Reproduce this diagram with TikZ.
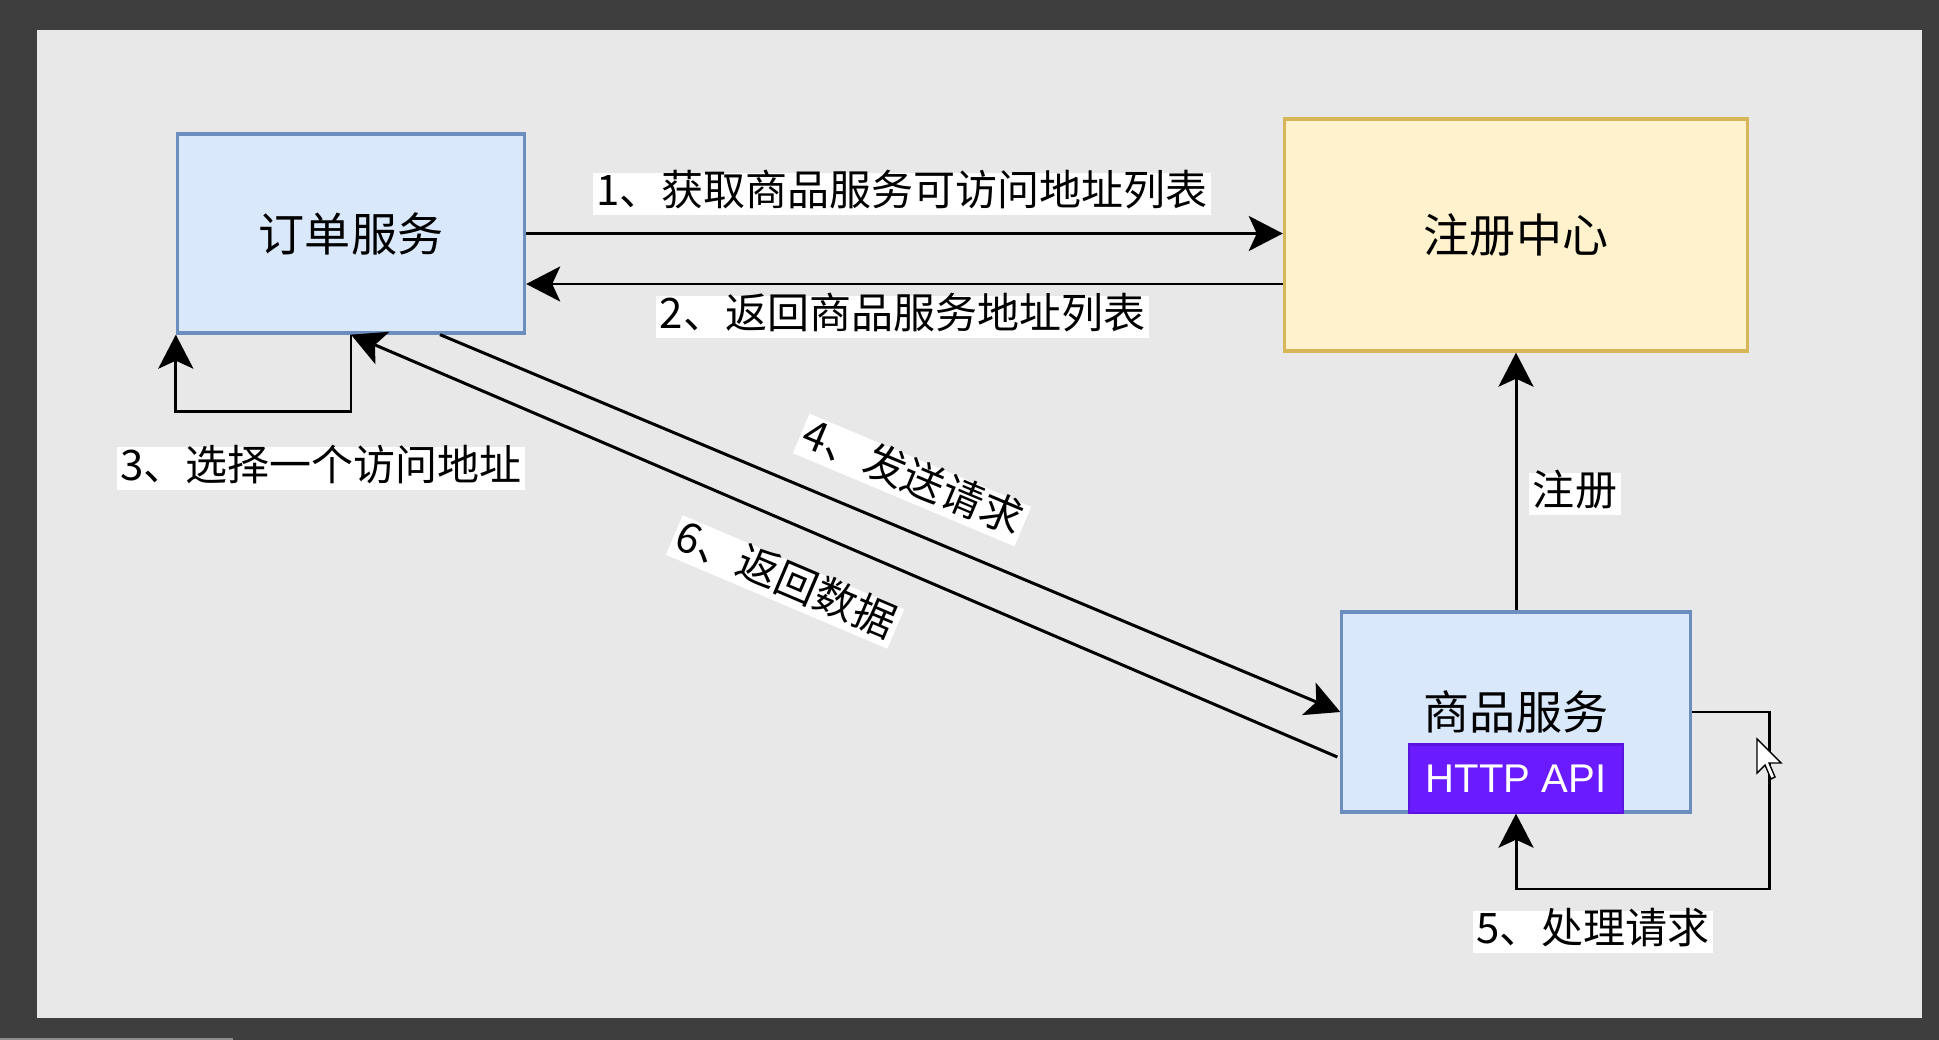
\documentclass[tikz,border=0pt]{standalone}
\usepackage{fontspec}
\setmainfont{Noto Sans CJK SC}
\newfontfamily\apifont{Liberation Sans}
\usetikzlibrary{arrows.meta,calc}
\definecolor{outerbg}{HTML}{3E3E3E}
\definecolor{innerbg}{HTML}{E8E8E8}
\definecolor{svcfill}{HTML}{DAE8FC}
\definecolor{svcline}{HTML}{6C8EBF}
\definecolor{regfill}{HTML}{FFF2CC}
\definecolor{regline}{HTML}{D6B656}
\definecolor{apifill}{HTML}{6A1BFF}
\definecolor{apiline}{HTML}{5A14E0}
\begin{document}
\begin{tikzpicture}[x=0.01cm, y=-0.01cm,
	box/.style={ draw, line width=0.9pt, inner sep=0pt, font=\fontsize{13.1pt}{15pt}\selectfont },
	lbl/.style={ fill=white, inner xsep=1pt, inner ysep=1.1pt, text height=0.84em, text depth=0.16em, font=\fontsize{11.95pt}{14pt}\selectfont },
	arr/.style={ line width=0.85pt, -{Stealth[length=0.34cm, width=0.35cm, inset=0.08cm]} }]
	\useasboundingbox (0,0) rectangle (1939,1040);
	\fill[outerbg] (0,0) rectangle (1939,1040);
	\fill[innerbg] (36.6,29.8) rectangle (1922,1018);
	\fill[black!45] (0,1037.5) rectangle (233,1040);

		\node[box, fill=svcfill, draw=svcline, minimum width=3.47cm, minimum height=1.99cm] (A) at (351,233.5) {订单服务};
		\node[box, fill=regfill, draw=regline, minimum width=4.63cm, minimum height=2.32cm] (B) at (1516,235) {注册中心};
		\node[box, fill=svcfill, draw=svcline, minimum width=3.48cm, minimum height=2cm] (C) at (1516,712) {商品服务};
		\node[draw=apiline, fill=apifill, line width=0.6pt, text=white, inner sep=0pt, minimum width=2.14cm, minimum height=0.68cm, anchor=south, font=\apifont\fontsize{11.4pt}{13pt}\selectfont] (D) at (C.south) {HTTP API};

		\coordinate (b2) at ($(B.west)+(0,49)$);
		\coordinate (a4) at ($(A.south)+(89,0)$);
		\coordinate (c6) at ($(C.west)+(-3,45)$);
		\draw[arr] (A.east) -- (A.east -| B.west);
		\draw[arr] (b2) -- (b2 -| A.east);
		\draw[arr] (A.south) -- ++(0,77) -| (A.south west);
		\draw[arr] (a4) -- (C.west);
		\draw[arr] (c6) -- (A.south);
		\draw[arr] (C.north) -- (B.south);
		\draw[arr] (C.east) -- ++(78,0) -- ++(0,177) -| (D.south);

		\node[lbl] (L1) at (902,194) {1、获取商品服务可访问地址列表};
		\node[lbl] (L2) at (902.5,317) {2、返回商品服务地址列表};
		\node[lbl] (L3) at (321,468.5) {3、选择一个访问地址};
		\node[lbl, rotate=-22.8] (L4) at (912,480) {4、发送请求};
		\node[lbl] (L5) at (1593,932) {5、处理请求};
		\node[lbl, rotate=-23] (L6) at (785,582) {6、返回数据};
		\node[lbl] (LR) at (1575,494) {注册};

	\draw[fill=white, line width=0.4pt] (1757,739) -- ++(0,34) -- ++(8,-8) -- ++(6,14) -- ++(4,-2) -- ++(-6,-14) -- ++(12,0) -- cycle;
\end{tikzpicture}
\end{document}
